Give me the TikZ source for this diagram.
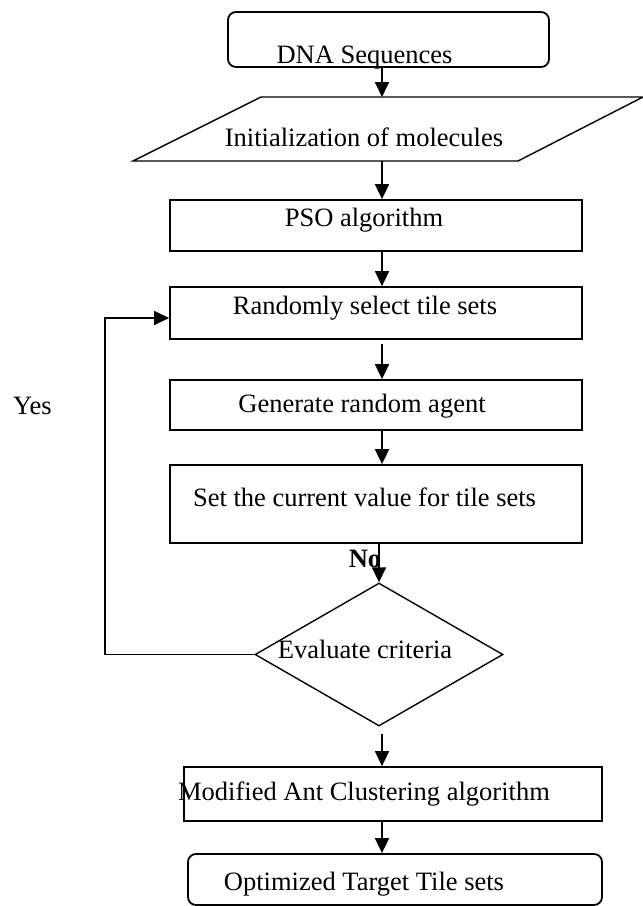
\documentclass[tikz,border=0pt]{standalone}
\usepackage{fontspec}
\setmainfont{Liberation Serif}
\usetikzlibrary{shapes.geometric,arrows.meta}

\tikzset{
  box/.style={draw, line width=1.8pt, inner sep=0pt},
  roundbox/.style={box, rounded corners=8pt},
  txt/.style={anchor=base, inner sep=0pt, font=\fontsize{26.5}{30}\selectfont},
  arr/.style={line width=1.8pt, -{Triangle[length=15pt,width=14pt]}},
}

\begin{document}
\begin{tikzpicture}[x=1pt,y=-1pt]
    \useasboundingbox (0,0) rectangle (643,906);
    % boxes
    \node[roundbox, minimum width=321pt, minimum height=55pt] (dna) at (388.5,39.5) {};
    \draw[line width=1.4pt] (133,161) -- (261,97) -- (643,97) -- (518,161) -- cycle;
    \coordinate (iT) at (382,97);
    \coordinate (iB) at (382,161);
    \node[box, minimum width=412pt, minimum height=51pt] (pso) at (376,225.5) {};
    \node[box, minimum width=412pt, minimum height=52pt] (sel) at (376,313) {};
    \node[box, minimum width=412pt, minimum height=50pt] (gen) at (376,405) {};
    \node[box, minimum width=412pt, minimum height=78pt] (cur) at (376,504) {};
    \node[draw, diamond, line width=1.4pt, inner sep=0pt, minimum width=248pt, minimum height=143pt] (eval) at (379,654.5) {};
    \node[box, minimum width=418pt, minimum height=54pt] (mac) at (393,794) {};
    \node[roundbox, minimum width=414pt, minimum height=51pt] (opt) at (395,879.5) {};
    % texts
    \node[txt] (dnatxt) at (364.5,63) {DNA Sequences};
    \node[txt] (inittxt) at (364,146) {Initialization of molecules};
    \node[txt] (psotxt) at (364,226) {PSO algorithm};
    \node[txt] (seltxt) at (365,314) {Randomly select tile sets};
    \node[txt] (gentxt) at (362,412) {Generate random agent};
    \node[txt] (curtxt) at (364.5,506) {Set the current value for tile sets};
    \node[txt] (evaltxt) at (365,658) {Evaluate criteria};
    \node[txt] (mactxt) at (364,800) {Modified Ant Clustering algorithm};
    \node[txt] (opttxt) at (364,890) {Optimized Target Tile sets};
    \node[txt, font=\fontsize{26.5}{30}\selectfont\bfseries] (no) at (365,567) {No};
    \node[txt] (yes) at (32.5,414) {Yes};
    % connectors
    \coordinate (spine) at (382,0);
    \coordinate (back) at (105,318);
    \draw[arr] (spine |- dna.south) -- (iT);
    \draw[arr] (iB) -- (spine |- pso.north);
    \draw[arr] (spine |- pso.south) -- (spine |- sel.north);
    \draw[arr, shorten <=4pt] (spine |- sel.south) -- (spine |- gen.north);
    \draw[arr] (spine |- gen.south) -- (spine |- cur.north);
    \draw[arr] (eval.north |- cur.south) -- (eval.north);
    \draw[arr, shorten <=7pt] (spine |- eval.south) -- (spine |- mac.north);
    \draw[arr] (spine |- mac.south) -- (spine |- opt.north);
    \draw[arr, line width=1.4pt] (eval.west) -| (back) -- (back -| sel.west);
\end{tikzpicture}
\end{document}
